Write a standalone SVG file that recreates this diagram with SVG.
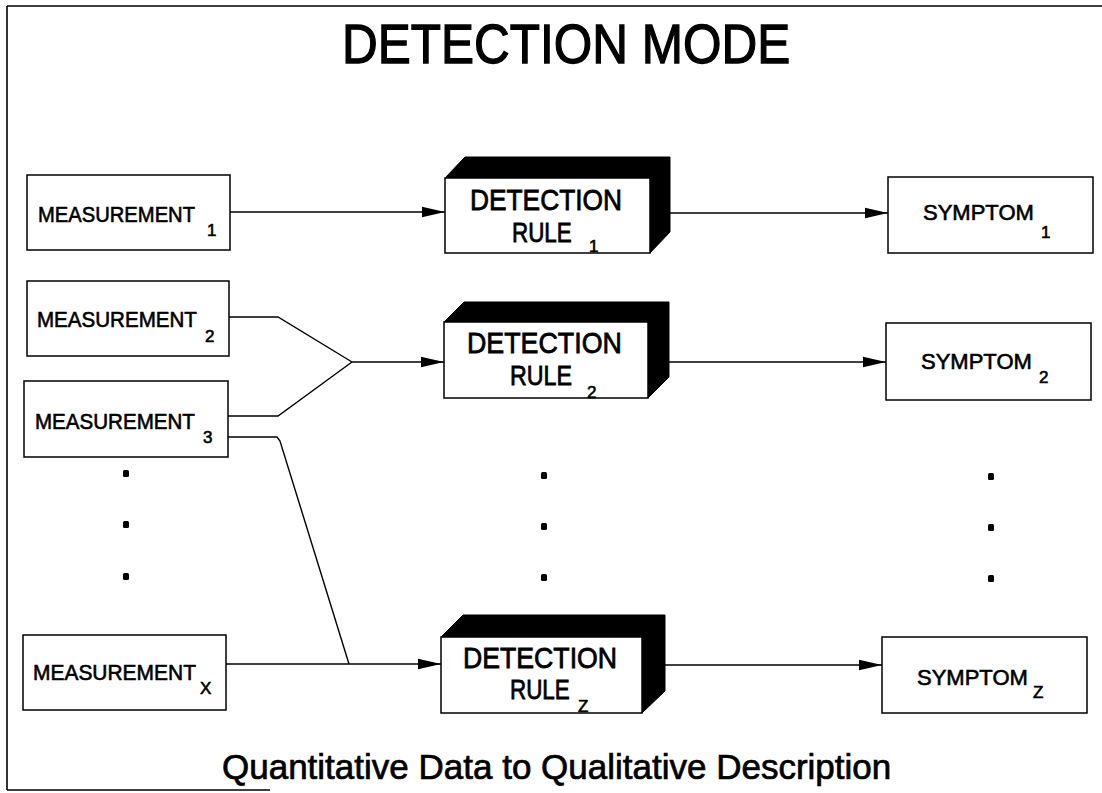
<svg xmlns="http://www.w3.org/2000/svg" width="1102" height="793" viewBox="0 0 1102 793">
  <style>
    .box { fill: #fff; stroke: #000; stroke-width: 1.5; }
    .solid { fill: #000; stroke: #000; stroke-width: 1; stroke-linejoin: round; }
    .wire { fill: none; stroke: #000; stroke-width: 1.4; }
    .frame { fill: none; stroke: #000; stroke-width: 1.6; }
    text { font-family: "Liberation Sans", Arial, sans-serif; fill: #000; stroke: #000; stroke-width: 0.6; }
    .lbl { font-size: 22px; }
    .det { font-size: 30px; stroke-width: 0.8; }
    .rule { font-size: 28px; stroke-width: 0.8; }
    .sub { font-size: 17px; }
    .head { font-size: 56px; stroke-width: 1.3; }
    .cap { font-size: 35px; stroke-width: 0.7; }
    .dot { fill: #000; }
  </style>
  <defs>
    <marker id="arrow" markerUnits="userSpaceOnUse" markerWidth="24" markerHeight="12" viewBox="0 0 24 12" refX="23" refY="6" orient="auto">
      <path d="M0,0.8 L23,6 L0,11.2 Z" fill="#000"/>
    </marker>
  </defs>

  <!-- page frame -->
  <g id="frame">
    <line class="frame" x1="7" y1="6" x2="1102" y2="6"/>
    <line class="frame" x1="7" y1="6" x2="7" y2="790"/>
    <line class="frame" x1="7" y1="790" x2="270" y2="790"/>
  </g>

  <text id="title" class="head" transform="translate(342,63) scale(0.884,1)">DETECTION MODE</text>

  <!-- connectors -->
  <g id="connectors">
    <line class="wire" x1="230" y1="212" x2="445" y2="212" marker-end="url(#arrow)"/>
    <polyline class="wire" points="229,317 278,317 352,362"/>
    <polyline class="wire" points="228,416 278,416 352,362"/>
    <line class="wire" x1="352" y1="362" x2="444" y2="362" marker-end="url(#arrow)"/>
    <polyline class="wire" points="228,437 277,437 280,441 349,664"/>
    <line class="wire" x1="226" y1="664" x2="441" y2="664" marker-end="url(#arrow)"/>
    <line class="wire" x1="670" y1="213" x2="888" y2="213" marker-end="url(#arrow)"/>
    <line class="wire" x1="669" y1="362" x2="886" y2="362" marker-end="url(#arrow)"/>
    <line class="wire" x1="665" y1="665" x2="882" y2="665" marker-end="url(#arrow)"/>
  </g>

  <!-- measurement nodes -->
  <g id="measurement1">
    <rect class="box" x="27" y="175" width="203" height="75"/>
    <text class="lbl" transform="translate(38,222) scale(0.918,1)">MEASUREMENT</text>
    <text class="sub" x="207" y="236">1</text>
  </g>
  <g id="measurement2">
    <rect class="box" x="27" y="281" width="202" height="75"/>
    <text class="lbl" transform="translate(37,327) scale(0.935,1)">MEASUREMENT</text>
    <text class="sub" x="205" y="342">2</text>
  </g>
  <g id="measurement3">
    <rect class="box" x="24" y="381" width="204" height="76"/>
    <text class="lbl" transform="translate(35,429) scale(0.935,1)">MEASUREMENT</text>
    <text class="sub" x="203" y="443">3</text>
  </g>
  <g id="measurementX">
    <rect class="box" x="23" y="635" width="203" height="75"/>
    <text class="lbl" transform="translate(33,680) scale(0.953,1)">MEASUREMENT</text>
    <text class="sub" x="200" y="694" font-size="18">X</text>
  </g>

  <!-- detection rule nodes (raised blocks) -->
  <g id="rule1">
    <polygon class="solid" points="445,178 465,157 670,157 670,232 650,253 650,178"/>
    <rect class="box" x="445" y="178" width="205" height="75"/>
    <text class="det" transform="translate(470,210) scale(0.877,1)">DETECTION</text>
    <text class="rule" transform="translate(512,242) scale(0.8,1)">RULE</text>
    <text class="sub" x="589" y="252">1</text>
  </g>
  <g id="rule2">
    <polygon class="solid" points="444,322 464,302 669,302 669,377 648,398 648,322"/>
    <rect class="box" x="444" y="322" width="204" height="76"/>
    <text class="det" transform="translate(467,353) scale(0.894,1)">DETECTION</text>
    <text class="rule" transform="translate(510,385) scale(0.83,1)">RULE</text>
    <text class="sub" x="587" y="398">2</text>
  </g>
  <g id="ruleZ">
    <polygon class="solid" points="441,637 463,615 665,615 665,691 642,713 642,637"/>
    <rect class="box" x="441" y="637" width="201" height="76"/>
    <text class="det" transform="translate(463,668) scale(0.889,1)">DETECTION</text>
    <text class="rule" transform="translate(510,699) scale(0.8,1)">RULE</text>
    <text class="sub" x="578" y="712" font-size="19">Z</text>
  </g>

  <!-- symptom nodes -->
  <g id="symptom1">
    <rect class="box" x="888" y="177" width="205" height="76"/>
    <text class="lbl" x="923" y="220">SYMPTOM</text>
    <text class="sub" x="1041" y="238">1</text>
  </g>
  <g id="symptom2">
    <rect class="box" x="886" y="323" width="205" height="77"/>
    <text class="lbl" x="921" y="369">SYMPTOM</text>
    <text class="sub" x="1039" y="383">2</text>
  </g>
  <g id="symptomZ">
    <rect class="box" x="882" y="637" width="205" height="76"/>
    <text class="lbl" x="917" y="685">SYMPTOM</text>
    <text class="sub" x="1033" y="698" font-size="18">Z</text>
  </g>

  <!-- ellipsis dots -->
  <g id="ellipses">
    <rect class="dot" x="123" y="470" width="6" height="7" rx="1.5"/>
    <rect class="dot" x="123" y="521" width="6" height="7" rx="1.5"/>
    <rect class="dot" x="123" y="573" width="6" height="7" rx="1.5"/>
    <rect class="dot" x="541" y="472" width="6" height="7" rx="1.5"/>
    <rect class="dot" x="541" y="523" width="6" height="7" rx="1.5"/>
    <rect class="dot" x="541" y="574" width="6" height="7" rx="1.5"/>
    <rect class="dot" x="988" y="473" width="6" height="7" rx="1.5"/>
    <rect class="dot" x="988" y="524" width="6" height="7" rx="1.5"/>
    <rect class="dot" x="988" y="575" width="6" height="7" rx="1.5"/>
  </g>

  <text id="caption" class="cap" x="222" y="779">Quantitative Data to Qualitative Description</text>
</svg>
